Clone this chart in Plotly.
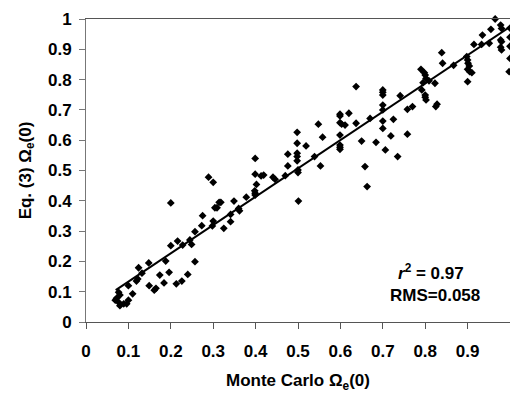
import plotly.graph_objects as go

# Monte Carlo Omega_e(0) (x) and Eq. (3) Omega_e(0) (y)
mc = [0.069, 0.072, 0.077, 0.080, 0.077, 0.080, 0.089, 0.096, 0.100, 0.100, 0.110, 0.124, 0.132, 0.122,
      0.119, 0.148, 0.149, 0.165, 0.161, 0.174, 0.184, 0.196, 0.188, 0.200, 0.200, 0.216, 0.213, 0.226,
      0.228, 0.240, 0.245, 0.249, 0.257, 0.257, 0.273, 0.275,
      0.289, 0.300, 0.300, 0.298, 0.304, 0.309, 0.314, 0.318, 0.325, 0.341, 0.341, 0.349, 0.360, 0.362,
      0.378, 0.399, 0.399, 0.402, 0.398, 0.399, 0.399, 0.413, 0.419, 0.441, 0.446, 0.470, 0.476, 0.476,
      0.498, 0.498, 0.498, 0.498, 0.498, 0.500, 0.500, 0.501, 0.519,
      0.539, 0.548, 0.553, 0.558, 0.599, 0.599, 0.599, 0.603, 0.611, 0.620, 0.599, 0.599, 0.599, 0.599,
      0.637, 0.637, 0.650, 0.658, 0.663, 0.670, 0.684, 0.700, 0.700, 0.700, 0.700, 0.700, 0.700, 0.700,
      0.706, 0.719, 0.725, 0.735, 0.741, 0.758, 0.758,
      0.770, 0.790, 0.798, 0.800, 0.802, 0.795, 0.792, 0.800, 0.800, 0.802, 0.809, 0.823, 0.825, 0.828,
      0.839, 0.841, 0.867, 0.898, 0.900, 0.901, 0.904, 0.900, 0.905, 0.910, 0.900, 0.915, 0.933, 0.935,
      0.951, 0.955, 0.965, 0.978, 0.980, 0.978, 0.980, 0.978, 0.980, 0.998,
      1.000, 1.000, 1.000, 1.000]
eq3 = [0.072, 0.078, 0.098, 0.089, 0.065, 0.054, 0.060, 0.060, 0.072, 0.120, 0.093, 0.179, 0.161, 0.142,
       0.135, 0.195, 0.120, 0.111, 0.105, 0.155, 0.129, 0.164, 0.201, 0.393, 0.252, 0.267, 0.126, 0.135,
       0.254, 0.157, 0.271, 0.256, 0.298, 0.199, 0.318, 0.351,
       0.478, 0.461, 0.333, 0.317, 0.377, 0.377, 0.395, 0.395, 0.309, 0.355, 0.331, 0.399, 0.375, 0.367,
       0.412, 0.540, 0.488, 0.454, 0.433, 0.425, 0.419, 0.482, 0.485, 0.478, 0.471, 0.483, 0.554, 0.515,
       0.626, 0.590, 0.557, 0.546, 0.532, 0.502, 0.493, 0.399, 0.581,
       0.546, 0.653, 0.515, 0.610, 0.686, 0.680, 0.658, 0.653, 0.650, 0.689, 0.617, 0.584, 0.577, 0.570,
       0.777, 0.656, 0.597, 0.513, 0.447, 0.672, 0.593, 0.766, 0.758, 0.749, 0.716, 0.700, 0.663, 0.639,
       0.568, 0.614, 0.669, 0.546, 0.747, 0.702, 0.620,
       0.711, 0.834, 0.823, 0.815, 0.804, 0.790, 0.766, 0.749, 0.742, 0.733, 0.796, 0.788, 0.711, 0.719,
       0.889, 0.854, 0.847, 0.876, 0.865, 0.854, 0.845, 0.834, 0.826, 0.823, 0.793, 0.916, 0.916, 0.947,
       0.920, 0.966, 1.000, 0.980, 0.969, 0.931, 0.925, 0.907, 0.898, 0.826,
       0.970, 0.940, 0.910, 0.870]

# Regression line endpoints
fit_x = [0.07, 1.0]
fit_y = [0.105, 0.974]

tick_vals = [0, 0.1, 0.2, 0.3, 0.4, 0.5, 0.6, 0.7, 0.8, 0.9, 1]
tick_text = ["0", "0.1", "0.2", "0.3", "0.4", "0.5", "0.6", "0.7", "0.8", "0.9", "1"]

font_family = "Liberation Sans, Arial, sans-serif"
fs = 17

fig = go.Figure()
fig.add_trace(go.Scatter(
    x=mc, y=eq3, mode="markers",
    marker=dict(symbol="diamond", size=6, color="black", line=dict(width=0)),
    cliponaxis=False, showlegend=False, hoverinfo="skip"))
fig.add_trace(go.Scatter(
    x=fit_x, y=fit_y, mode="lines",
    line=dict(color="black", width=2), showlegend=False, hoverinfo="skip"))

fig.add_annotation(x=0.814, y=0.165, xref="x", yref="y", showarrow=False,
                   text="<i>r</i><sup>2</sup> = 0.97",
                   font=dict(family=font_family, size=fs, color="black", weight="bold"))
fig.add_annotation(x=0.824, y=0.089, xref="x", yref="y", showarrow=False,
                   text="RMS=0.058",
                   font=dict(family=font_family, size=fs, color="black", weight="bold"))

fig.update_layout(
    width=510, height=393,
    margin=dict(l=86, r=0, t=19, b=71),
    paper_bgcolor="white", plot_bgcolor="white",
    font=dict(family=font_family, color="black"),
    xaxis=dict(
        range=[0, 1], tickvals=tick_vals, ticktext=tick_text,
        automargin=False,
        showgrid=False, zeroline=False,
        showline=True, linecolor="#555555", linewidth=1, mirror=True,
        ticks="outside", ticklen=6, tickcolor="#555555", tickwidth=1,
        tickfont=dict(family=font_family, size=fs, color="black", weight="bold"),
        ticklabelstandoff=8,
        title=dict(text="Monte Carlo Ω<sub>e</sub>(0)", standoff=14,
                   font=dict(family=font_family, size=fs, color="black", weight="bold")),
    ),
    yaxis=dict(
        range=[0, 1], tickvals=tick_vals, ticktext=tick_text,
        automargin=False,
        showgrid=False, zeroline=False,
        showline=True, linecolor="#777777", linewidth=1,
        ticks="outside", ticklen=6, tickcolor="#777777", tickwidth=1,
        tickfont=dict(family=font_family, size=fs, color="black", weight="bold"),
        ticklabelstandoff=4,
        title=dict(text="Eq. (3) Ω<sub>e</sub>(0)", standoff=12,
                   font=dict(family=font_family, size=fs, color="black", weight="bold")),
    ),
)

fig.write_html("out.html", config={"displayModeBar": False},
               post_script="document.body.style.margin='0';")
